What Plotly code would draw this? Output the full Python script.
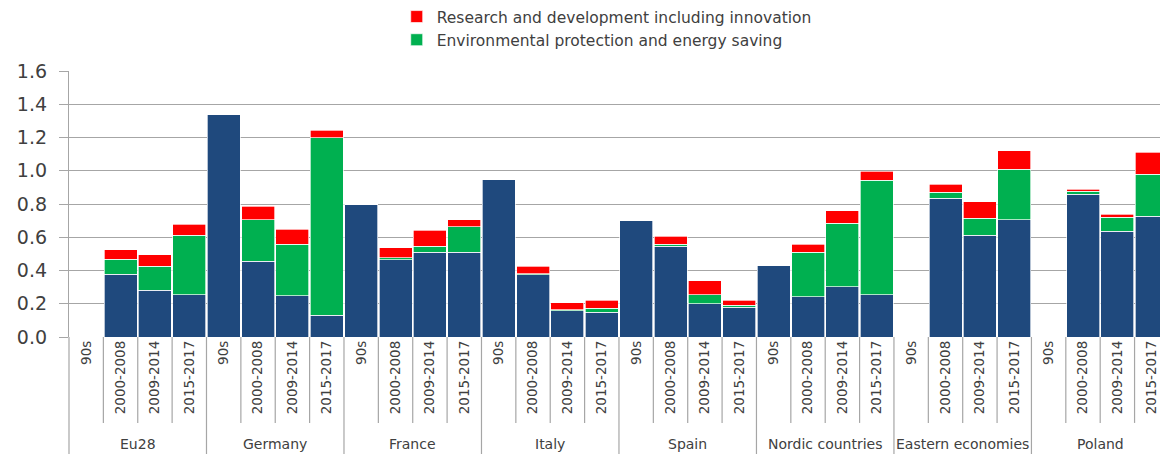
import plotly.graph_objects as go

groups = ["Eu28", "Germany", "France", "Italy", "Spain", "Nordic countries", "Eastern economies", "Poland"]
periods = ["90s", "2000-2008", "2009-2014", "2015-2017"]

# base (dark blue) component
base = [
    0.0, 0.377, 0.281, 0.253,   # Eu28
    1.34, 0.455, 0.247, 0.130,  # Germany
    0.80, 0.465, 0.511, 0.511,  # France
    0.946, 0.373, 0.158, 0.150, # Italy
    0.699, 0.547, 0.200, 0.178, # Spain
    0.433, 0.241, 0.303, 0.253, # Nordic countries
    0.0, 0.836, 0.613, 0.705,   # Eastern economies
    0.0, 0.858, 0.637, 0.725,   # Poland
]
# Environmental protection and energy saving
env = [
    0.0, 0.090, 0.146, 0.360,
    0.0, 0.250, 0.312, 1.070,
    0.0, 0.012, 0.034, 0.152,
    0.0, 0.006, 0.006, 0.022,
    0.0, 0.012, 0.053, 0.012,
    0.0, 0.270, 0.380, 0.689,
    0.0, 0.034, 0.100, 0.303,
    0.0, 0.020, 0.082, 0.255,
]
# Research and development including innovation
rnd = [
    0.0, 0.058, 0.068, 0.064,
    0.0, 0.081, 0.090, 0.045,
    0.0, 0.060, 0.098, 0.042,
    0.0, 0.048, 0.041, 0.048,
    0.0, 0.048, 0.084, 0.030,
    0.0, 0.048, 0.076, 0.054,
    0.0, 0.050, 0.101, 0.112,
    0.0, 0.012, 0.019, 0.132,
]

n = len(groups) * len(periods)
xs = list(range(n))
tick_text = [p for g in groups for p in periods]

BLUE = "#1F497D"
GREEN = "#00B050"
RED = "#FF0000"
TXT = "#404040"
GRID = "#A6A6A6"
FONT = "DejaVu Sans"

fig = go.Figure()
bar_line = dict(color="rgba(255,255,255,0.85)", width=0.8)
fig.add_trace(go.Bar(x=xs, y=base, marker=dict(color=BLUE, line=bar_line),
                     name="Other", showlegend=False))
fig.add_trace(go.Bar(x=xs, y=env, marker=dict(color=GREEN, line=bar_line),
                     name="Environmental protection and energy saving"))
fig.add_trace(go.Bar(x=xs, y=rnd, marker=dict(color=RED, line=bar_line),
                     name="Research and development including innovation"))

shapes = []
# separators between periods (longer ones between groups)
for i in range(n - 1):
    b = i + 0.5
    full = (i % 4 == 3)
    shapes.append(dict(type="line", xref="x", yref="paper", x0=b, x1=b,
                       y0=0, y1=(-0.45 if full else -0.323),
                       line=dict(color=GRID, width=1.2)))
# left edge line
shapes.append(dict(type="line", xref="paper", yref="paper", x0=0, x1=0,
                   y0=0, y1=-0.45, line=dict(color=GRID, width=1.2)))

annotations = []
for gi, g in enumerate(groups):
    annotations.append(dict(x=gi * 4 + 1.5, y=-0.404, xref="x", yref="paper",
                            text=g, showarrow=False, xanchor="center", yanchor="middle",
                            font=dict(family=FONT, size=14, color=TXT)))

fig.update_layout(
    barmode="stack",
    bargap=0.04,
    width=1160, height=454,
    margin=dict(l=69, r=0, t=71, b=117, autoexpand=False),
    plot_bgcolor="white", paper_bgcolor="white",
    font=dict(family=FONT, color=TXT),
    shapes=shapes,
    annotations=annotations,
    legend=dict(orientation="v", xref="container", yref="container",
                x=0.342, y=1.0, xanchor="left", yanchor="top",
                traceorder="reversed", font=dict(family=FONT, size=15.5, color=TXT),
                itemwidth=30, tracegroupgap=0, bgcolor="rgba(0,0,0,0)"),
    xaxis=dict(range=[-0.5, 31.24], tickmode="array", tickvals=xs, ticktext=tick_text,
               tickangle=-90, showgrid=False, zeroline=False, showline=False,
               ticks="", tickfont=dict(family=FONT, size=13.5, color=TXT)),
    yaxis=dict(range=[0, 1.6], dtick=0.2, tickformat=".1f", showgrid=True,
               gridcolor=GRID, gridwidth=1.3, zeroline=False,
               showline=True, linecolor=GRID, linewidth=1.3,
               ticks="outside", ticklen=9, tickcolor=GRID, tickwidth=1.3,
               ticklabelstandoff=8,
               tickfont=dict(family=FONT, size=19, color=TXT)),
)

fig.write_html("out.html", config={"displayModeBar": False},
               post_script="document.body.style.margin='0';")
